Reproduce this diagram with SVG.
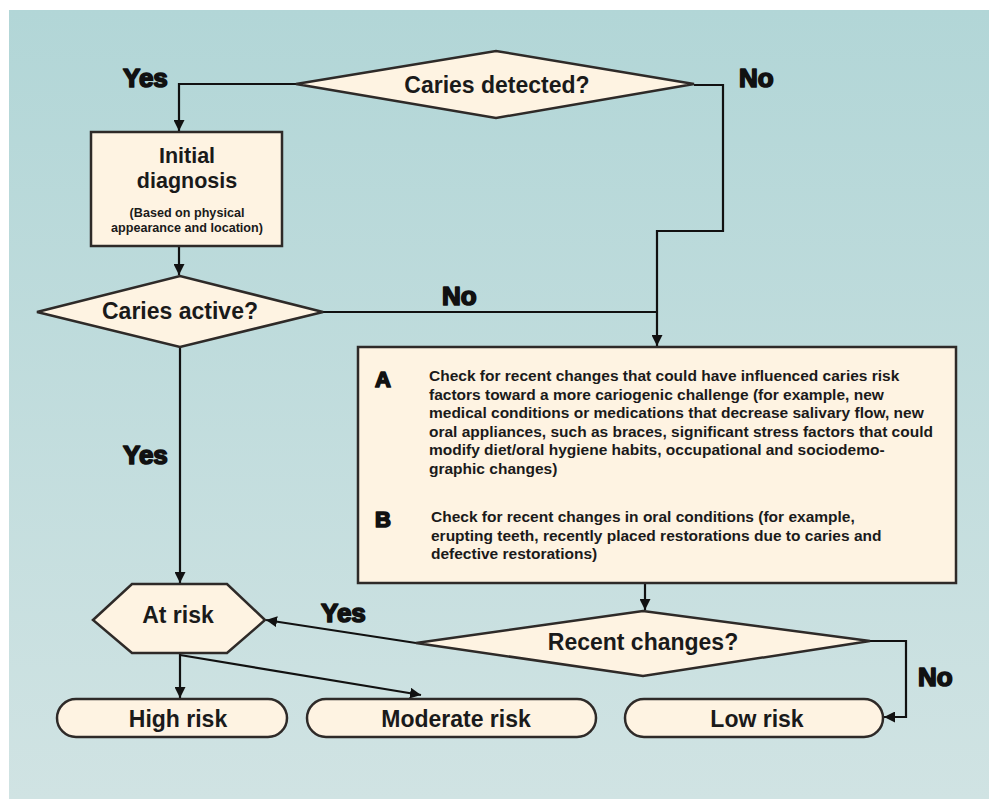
<svg xmlns="http://www.w3.org/2000/svg" width="989" height="799" viewBox="0 0 989 799">
<defs>
<linearGradient id="bg" x1="0" y1="0" x2="0" y2="1">
<stop offset="0" stop-color="#b2d6d7"/>
<stop offset="1" stop-color="#d0e3e3"/>
</linearGradient>
<marker id="arr" viewBox="0 0 10 10" refX="10" refY="5" markerWidth="11" markerHeight="11" markerUnits="userSpaceOnUse" orient="auto">
<path d="M0,0 L10,5 L0,10 Z" fill="#111"/>
</marker>
<style>
.node{fill:#fef3e2;stroke:#2e2a28;stroke-width:2.5;stroke-linejoin:miter}
.t{font-family:"Liberation Sans",Arial,sans-serif;font-weight:700;fill:#1a1a1a;text-anchor:middle}
.big{font-size:23px}
.head{font-size:21.5px}
.small{font-size:12.6px}
.body{font-family:"Liberation Sans",Arial,sans-serif;font-weight:700;fill:#1a1a1a;font-size:15.5px}
.lbl{font-family:"Liberation Sans",Arial,sans-serif;font-weight:900;font-size:26px;fill:#111;stroke:#111;stroke-width:1.7;stroke-linejoin:round}
.c{fill:none;stroke:#111;stroke-width:2.2}
</style>
</defs>
<rect x="9" y="10" width="980" height="789" fill="url(#bg)"/>

<g id="connectors">
<polyline class="c" points="296,84 179,84 179,131" marker-end="url(#arr)"/>
<polyline class="c" points="179,246 179,275" marker-end="url(#arr)"/>
<polyline class="c" points="323,312 657,312"/>
<polyline class="c" points="694,85 723,85 723,231 657,231 657,346" marker-end="url(#arr)"/>
<polyline class="c" points="180,347 180,583" marker-end="url(#arr)"/>
<polyline class="c" points="645,584 645,610" marker-end="url(#arr)"/>
<polyline class="c" points="416,643 266,620" marker-end="url(#arr)"/>
<polyline class="c" points="870,641 906,641 906,717 884,717" marker-end="url(#arr)"/>
<polyline class="c" points="180,654 180,698" marker-end="url(#arr)"/>
<polyline class="c" points="180,655 421,695" marker-end="url(#arr)"/>
<text class="lbl" x="123" y="87">Yes</text>
<text class="lbl" x="739" y="87">No</text>
<text class="lbl" x="442" y="305">No</text>
<text class="lbl" x="123" y="464">Yes</text>
<text class="lbl" x="321" y="622">Yes</text>
<text class="lbl" x="918" y="686">No</text>
</g>

<g id="caries-detected">
<polygon class="node" points="296,84 496,51 694,84 496,118"/>
<text class="t big" x="497" y="93">Caries detected?</text>
</g>

<g id="initial-diagnosis">
<rect class="node" x="91" y="132" width="191" height="114"/>
<text class="t head" x="187" y="163">Initial</text>
<text class="t head" x="187" y="188">diagnosis</text>
<text class="t small" x="187" y="217">(Based on physical</text>
<text class="t small" x="187" y="232">appearance and location)</text>
</g>

<g id="caries-active">
<polygon class="node" points="37,312 180,276 323,312 180,347"/>
<text class="t big" x="180" y="319">Caries active?</text>
</g>

<g id="check-changes">
<rect class="node" x="358" y="347" width="598" height="236"/>
<text class="lbl" x="375" y="387" style="font-size:22px">A</text>
<text class="body" x="429" y="381">Check for recent changes that could have influenced caries risk</text>
<text class="body" x="429" y="399.5">factors toward a more cariogenic challenge (for example, new</text>
<text class="body" x="429" y="418">medical conditions or medications that decrease salivary flow, new</text>
<text class="body" x="429" y="436.5">oral appliances, such as braces, significant stress factors that could</text>
<text class="body" x="429" y="455">modify diet/oral hygiene habits, occupational and sociodemo-</text>
<text class="body" x="429" y="473.5">graphic changes)</text>
<text class="lbl" x="375" y="527" style="font-size:22px">B</text>
<text class="body" x="431" y="522">Check for recent changes in oral conditions (for example,</text>
<text class="body" x="431" y="540.5">erupting teeth, recently placed restorations due to caries and</text>
<text class="body" x="431" y="559">defective restorations)</text>
</g>

<g id="recent-changes">
<polygon class="node" points="416,643 643,611 870,641 643,676"/>
<text class="t big" x="643" y="650">Recent changes?</text>
</g>

<g id="at-risk">
<polygon class="node" points="93,620 132,584 227,584 265,620 227,653 132,653"/>
<text class="t big" x="178" y="623">At risk</text>
</g>

<g id="high-risk">
<rect class="node" x="57" y="699" width="230" height="38" rx="19" ry="19"/>
<text class="t big" x="178" y="727">High risk</text>
</g>

<g id="moderate-risk">
<rect class="node" x="307" y="699" width="289" height="38" rx="19" ry="19"/>
<text class="t big" x="456" y="727">Moderate risk</text>
</g>

<g id="low-risk">
<rect class="node" x="625" y="699" width="258" height="38" rx="19" ry="19"/>
<text class="t big" x="757" y="727">Low risk</text>
</g>
</svg>
